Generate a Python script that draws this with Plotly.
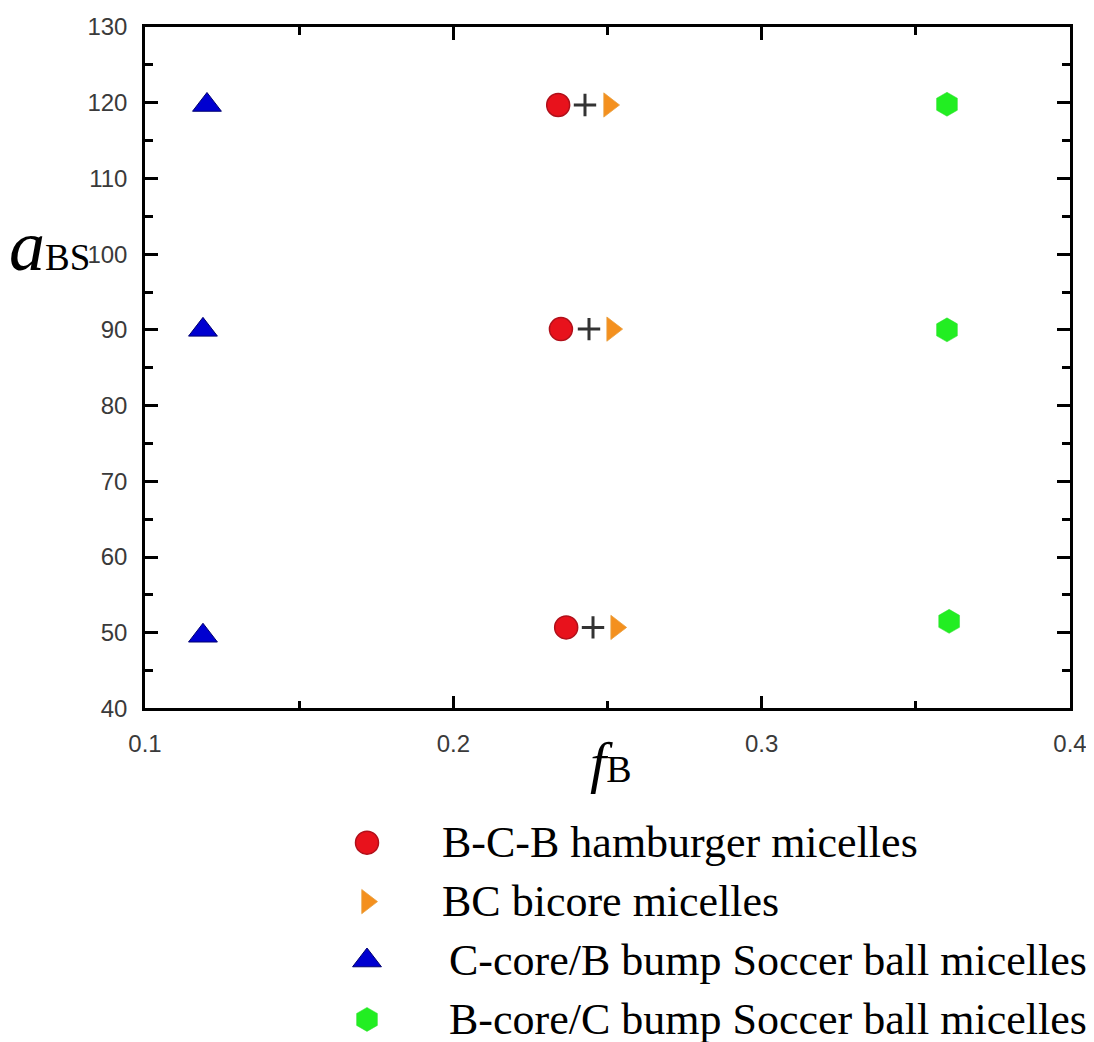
import plotly.graph_objects as go

# ---- data ----
fB_hamburger = [0.2340, 0.2349, 0.2366]
a_hamburger = [119.7, 90.1, 50.7]
fB_plus = [0.2427, 0.2440, 0.2453]
a_plus = [119.7, 90.1, 50.7]
fB_bicore = [0.2505, 0.2515, 0.2528]
a_bicore = [119.7, 90.1, 50.7]
fB_ccore = [0.1201, 0.1188, 0.1188]
a_ccore = [119.7, 90.0, 49.6]
fB_bcore = [0.3601, 0.3601, 0.3608]
a_bcore = [119.8, 90.0, 51.5]

legend_labels = ["B-C-B hamburger micelles", "BC bicore micelles",
                 "C-core/B bump Soccer ball micelles", "B-core/C bump Soccer ball micelles"]
legend_rows = [0, 1, 2, 3]
legend_indent = [0, 0, 7, 7]

x_ticks = [0.1, 0.2, 0.3, 0.4]
y_ticks = [40, 50, 60, 70, 80, 90, 100, 110, 120, 130]

# ---- styles ----
red = dict(symbol="circle", size=23, color="#e8121c", line=dict(color="#b0101a", width=1.5))
orange = dict(symbol="triangle-right", size=21, color="#f4901e", line=dict(color="#e8a040", width=0.8))
blue = dict(symbol="triangle-up", size=25, color="#0000d0", line=dict(color="#000070", width=1))
green = dict(symbol="hexagon", size=24, color="#22ee22", line=dict(color="#33dd33", width=0.5))
plus = dict(symbol="cross-thin", size=16, color="#333333", line=dict(color="#333333", width=3))

fig = go.Figure()
fig.add_trace(go.Scatter(x=fB_hamburger, y=a_hamburger, mode="markers", marker=red, showlegend=False))
fig.add_trace(go.Scatter(x=fB_plus, y=a_plus, mode="markers", marker=plus, showlegend=False))
fig.add_trace(go.Scatter(x=fB_bicore, y=a_bicore, mode="markers", marker=orange, showlegend=False))
fig.add_trace(go.Scatter(x=fB_ccore, y=a_ccore, mode="markers", marker=blue, showlegend=False))
fig.add_trace(go.Scatter(x=fB_bcore, y=a_bcore, mode="markers", marker=green, showlegend=False))

# legend drawn on hidden axes below the plot
for row, mk in zip(legend_rows, [red, orange, blue, green]):
    fig.add_trace(go.Scatter(x=[0], y=[row], mode="markers", marker=mk,
                             xaxis="x2", yaxis="y2", showlegend=False))

for row, lab, ind in zip(legend_rows, legend_labels, legend_indent):
    fig.add_annotation(x=1, y=row, xref="x2", yref="y2", text=lab, showarrow=False,
                       xanchor="left", yanchor="middle", xshift=ind,
                       font=dict(family="Liberation Serif", size=44, color="black"))

axis_common = dict(showline=True, linecolor="black", linewidth=2.5, mirror="allticks",
                   ticks="inside", ticklen=13, tickwidth=2.5, tickcolor="black",
                   showgrid=False, zeroline=False,
                   tickfont=dict(family="Liberation Sans", size=24, color="#3a3a3a"))

fig.update_layout(
    width=1086, height=1048,
    margin=dict(l=137, r=24, t=19, b=0),
    paper_bgcolor="white", plot_bgcolor="white",
    xaxis=dict(range=[0.1, 0.4], tickvals=x_ticks, ticktext=[str(v) for v in x_ticks],
               domain=[0, 1], anchor="y", ticklabelstandoff=12,
               minor=dict(ticks="inside", ticklen=8, tickwidth=2.5, tickcolor="black", dtick=0.05),
               **axis_common),
    yaxis=dict(range=[40, 130], tickvals=y_ticks, domain=[0.3293, 1], anchor="x",
               ticklabelstandoff=10,
               minor=dict(ticks="inside", ticklen=8, tickwidth=2.5, tickcolor="black", dtick=5),
               **axis_common),
    xaxis2=dict(range=[-3.041, 9.630], domain=[0, 1], anchor="y2", visible=False),
    yaxis2=dict(range=[3.400, -2.279], domain=[0, 0.3293], anchor="x2", visible=False),
)

# axis titles
fig.add_annotation(x=-0.149, y=0.7848, xref="paper", yref="paper", showarrow=False,
                   xanchor="left", yanchor="middle",
                   text="<i>a</i><span style='font-size:37px'>BS</span>",
                   font=dict(family="Liberation Serif", size=72, color="black"))
fig.add_annotation(x=0.503, y=0.2758, xref="paper", yref="paper", showarrow=False,
                   xanchor="center", yanchor="middle",
                   text="<i>f</i><span style='font-size:38px'>B</span>",
                   font=dict(family="Liberation Serif", size=58, color="black"))

fig.write_html("out.html")
